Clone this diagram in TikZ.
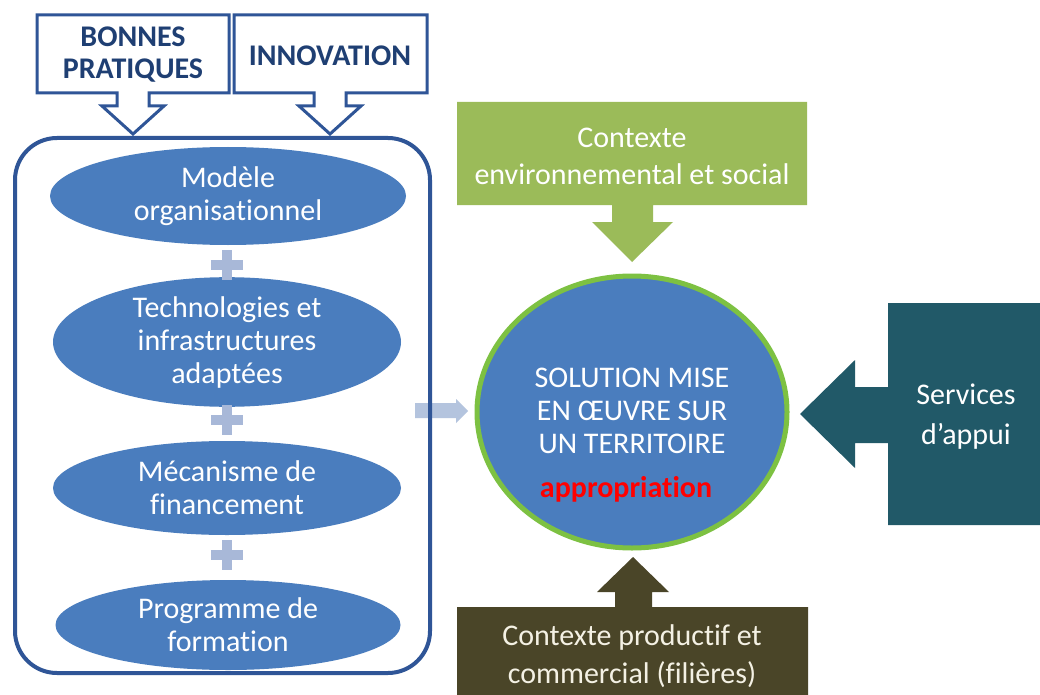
\documentclass[tikz,border=0pt]{standalone}
\usepackage{fontspec}
\setmainfont[Ligatures=NoCommon]{Carlito}
\usetikzlibrary{shapes.geometric}
\definecolor{frameblue}{HTML}{2F5597}
\definecolor{titleblue}{HTML}{1F3F73}
\definecolor{ellblue}{HTML}{4A7DBE}
\definecolor{plusc}{HTML}{A8B8D8}
\definecolor{grayarrow}{HTML}{B4C4DE}
\definecolor{envgreen}{HTML}{9BBB59}
\definecolor{ringgreen}{HTML}{7DC142}
\definecolor{teal}{HTML}{215968}
\definecolor{brownc}{HTML}{4A4528}
\definecolor{cream}{HTML}{F4F1E4}
\tikzset{
  ell/.style={ellipse, fill=ellblue, text=white, inner sep=0pt, align=center,
    font=\fontsize{30}{33}\selectfont},
  calltext/.style={text=titleblue, align=center, font=\fontsize{30}{32}\selectfont\bfseries},
  ctxtext/.style={align=center, font=\fontsize{30}{37}\selectfont},
  plussign/.pic={\fill[plusc] (-16,-5) rectangle (16,5); \fill[plusc] (-5,-15) rectangle (5,15);}
}
\begin{document}
\begin{tikzpicture}[x=1pt,y=-1pt]
\useasboundingbox[fill=white] (0,0) rectangle (1040,695);

% top outline callouts
\draw[frameblue, line width=3pt, fill=white, line join=miter]
  (37,15) -- (229,15) -- (229,93) -- (149,93) -- (149,106) -- (164,106) -- (133,134)
  -- (102,106) -- (117,106) -- (117,93) -- (37,93) -- cycle;
\node[calltext] (bp) at (133,55) {BONNES\\PRATIQUES};
\draw[frameblue, line width=3pt, fill=white, line join=miter]
  (234,15) -- (427,15) -- (427,93) -- (346,93) -- (346,106) -- (361,106) -- (330,134)
  -- (299,106) -- (314,106) -- (314,93) -- (234,93) -- cycle;
\node[calltext] (inn) at (330,56) {INNOVATION};

% grey block arrow
\fill[grayarrow] (415,403) -- (456,403) -- (456,399) -- (468,411) -- (456,423) -- (456,418) -- (415,418) -- cycle;

% big rounded frame
\draw[frameblue, line width=4pt, rounded corners=42pt] (15,138) rectangle (430,673);

% ellipses
\node[ell, minimum width=356pt, minimum height=98pt] (e1) at (228,196) {Modèle\\organisationnel};
\node[ell, minimum width=348pt, minimum height=110pt] (e2) at (227,342) {Technologies et\\infrastructures\\adaptées};
\node[ell, minimum width=348pt, minimum height=94pt] (e3) at (227,488) {Mécanisme de\\financement};
\node[ell, minimum width=345pt, minimum height=90pt] (e4) at (228,625) {Programme de\\formation};
\pic at (227,265) {plussign};
\pic at (227,420) {plussign};
\pic at (227,555) {plussign};

% central circle
\node[ellipse, fill=ellblue, draw=ringgreen, line width=5pt, minimum width=310pt, minimum height=272pt,
  inner sep=0pt] (sol) at (632,412) {};
\node[text=white, align=center, font=\fontsize{30}{33}\selectfont] (soltxt) at (632,411)
  {SOLUTION MISE\\EN ŒUVRE SUR\\UN TERRITOIRE};
\node[text=red, font=\fontsize{30}{33}\selectfont\bfseries] (appr) at (626,489) {appropriation};

% green context callout
\fill[envgreen] (457,102) -- (807,102) -- (807,205) -- (653,205) -- (653,222) -- (673,222) -- (632,262)
  -- (592,222) -- (612,222) -- (612,205) -- (457,205) -- cycle;
\node[ctxtext, text=white] (env) at (632,156) {Contexte\\environnemental et social};

% teal services callout
\fill[teal] (888,303) -- (1040,303) -- (1040,525) -- (888,525) -- (888,443) -- (855,443) -- (855,468)
  -- (800,414) -- (855,360) -- (855,387) -- (888,387) -- cycle;
\node[ctxtext, text=white, font=\fontsize{30}{40}\selectfont] (serv) at (966,417) {Services\\d’appui};

% brown productive callout
\fill[brownc] (457,607) -- (615,607) -- (615,592) -- (597,592) -- (633,557) -- (669,592) -- (652,592)
  -- (652,607) -- (808,607) -- (808,695) -- (457,695) -- cycle;
\node[ctxtext, text=cream, font=\fontsize{30}{38}\selectfont] (prod) at (632,656) {Contexte productif et\\commercial (filières)};
\end{tikzpicture}
\end{document}
